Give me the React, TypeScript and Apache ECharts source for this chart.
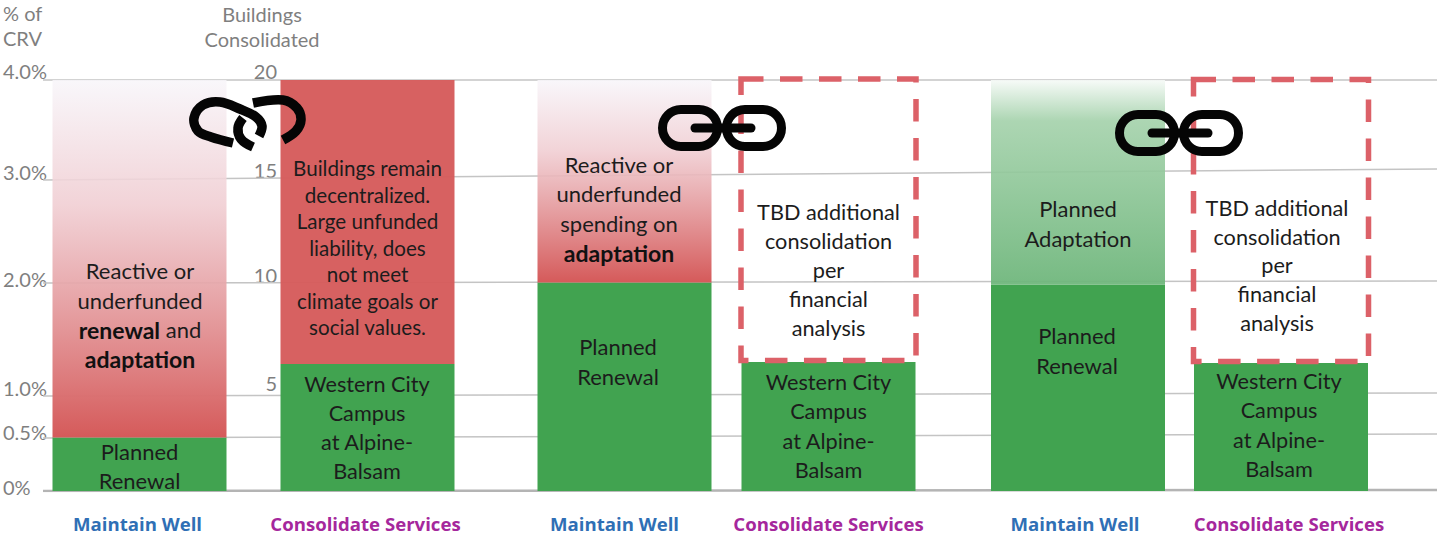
import React, { useEffect, useRef } from "react";
import * as echarts from "echarts";

// ---------- data ----------
const categories = ["Maintain Well", "Consolidate Services"];
// Maintain Well bars, % of CRV
const plannedRenewalPct = [0.52, 2.03, 2.01];
const upperSpendPct = [3.48, 1.97, 1.99];
// Consolidate Services bars, buildings consolidated
const westernCityBuildings = [6.18, 6.28, 6.23];
const remainingBuildings = [13.82, 13.77, 13.8];
const BUILDINGS_PER_PCT = 5;

// Axis labels (the source axis is drawn with irregular spacing)
const pctLabels = ["0%", "0.5%", "1.0%", "2.0%", "3.0%", "4.0%"];
const pctLabelAt = [0.04, 0.572, 1.0, 2.062, 3.108, 4.088];
const buildingLabels = ["5", "10", "15", "20"];
const buildingLabelAt = [1.05, 2.1, 3.123, 4.088];
// Gridlines, value at the left and right ends (they slope slightly in the source)
const gridLeft = [0, 0.516, 0.925, 2.024, 3.027, 4];
const gridRight = [0.01, 0.555, 0.954, 2.044, 3.134, 4];

const maintainText = [
  "Reactive or\nunderfunded\n{b|renewal} and\n{b|adaptation}",
  "Reactive or\nunderfunded\nspending on\n{b|adaptation}",
  "Planned\nAdaptation",
];
const plannedRenewalText = ["Planned\nRenewal", "Planned\nRenewal", "Planned\nRenewal"];
const westernCityText = "Western City\nCampus\nat Alpine-\nBalsam";
const consolidateText = [
  "Buildings remain\ndecentralized.\nLarge unfunded\nliability, does\nnot meet\nclimate goals or\nsocial values.",
  "TBD additional\nconsolidation\nper\nfinancial\nanalysis",
  "TBD additional\nconsolidation\nper\nfinancial\nanalysis",
];

// ---------- layout & style ----------
const W = 1437;
const H = 538;
const PLOT_BOTTOM = 491;
const BAR_W = 174;
const PX_PER_PCT = 102.75;
const FONT = "Lato, sans-serif";
const groupGrids = [
  { left: 25.5, width: 456, shift: [-2, -2] },
  { left: 522.5, width: 408, shift: [-10, 0] },
  { left: 976.5, width: 406, shift: [-3, 8] },
];
const GREEN = "#41a350";
const DASH_RED = "#dc6168";

const grad = (stops: [number, string][]) => ({
  type: "linear",
  x: 0,
  y: 0,
  x2: 0,
  y2: 1,
  colorStops: stops.map(([offset, color]) => ({ offset, color })),
});
const redFade = grad([
  [0, "rgba(248,246,250,0.88)"],
  [0.35, "rgba(240,205,210,0.88)"],
  [1, "rgba(213,90,90,1)"],
]);
const greenFade = grad([
  [0, "rgba(246,250,247,0.9)"],
  [0.2, "rgba(163,209,170,0.9)"],
  [1, "rgba(110,182,123,0.94)"],
]);

// label layout: [dx from bar centre, dy from bar top, lineHeight, fontSize]
const lowerMaintainLayout = [
  [0, -0.5, 29, 22],
  [-6.5, 49, 30, 22],
  [-1, 36, 30, 22],
];
const upperMaintainLayout = [
  [0.5, 176, 29.5, 22],
  [-5.5, 70, 29.3, 22],
  [0, 113, 30, 22],
];
const lowerConsolidateLayout = [
  [-0.5, 5.5, 29, 21.7],
  [0, 5.5, 29.3, 21.7],
  [-2, 3.5, 29.3, 21.7],
];
const upperConsolidateLayout = [
  [0, 74.75, 26.5, 20.6],
  [0, 118, 29.2, 21.7],
  [-4, 114, 28.8, 21.7],
];

const labelOf = (text: string, l: number[]) => ({
  show: true,
  formatter: text,
  position: [BAR_W / 2 + l[0], l[1]],
  align: "center",
  verticalAlign: "top",
  lineHeight: l[2],
  fontSize: l[3],
  fontFamily: FONT,
  color: "#1c1c1c",
  rich: {
    b: { fontWeight: "bold", fontSize: l[3] + 1, lineHeight: l[2], fontFamily: FONT, color: "#111" },
  },
});

const upperStyles = (i: number) => ({
  maintain: i === 2 ? { color: greenFade } : { color: redFade },
  consolidate: i === 0 ? { color: "rgba(214,92,92,0.97)" } : { color: "rgba(255,255,255,0)" },
});

function buildOption() {
  const grid: any[] = [];
  const xAxis: any[] = [];
  const yAxis: any[] = [];
  const series: any[] = [];

  const xLabelStyle = (color: string, shift: number) => ({
    color,
    fontWeight: "bold",
    fontSize: 18.6,
    fontFamily: "'Open Sans', sans-serif",
    padding: [0, shift < 0 ? -2 * shift : 0, 0, shift > 0 ? 2 * shift : 0],
  });

  groupGrids.forEach((g, i) => {
    grid.push({ left: g.left, width: g.width, top: 80, bottom: H - PLOT_BOTTOM });
    xAxis.push({
      type: "category",
      gridIndex: i,
      data: categories,
      axisLine: { show: false },
      axisTick: { show: false },
      axisLabel: {
        interval: 0,
        margin: 23,
        formatter: (v: string) => (v === categories[0] ? `{m|${v}}` : `{c|${v}}`),
        rich: { m: xLabelStyle("#2f6fb5", g.shift[0]), c: xLabelStyle("#a5279c", g.shift[1]) },
      },
    });
    yAxis.push({ type: "value", gridIndex: i, min: 0, max: 4, show: false });
    const common = {
      type: "bar",
      xAxisIndex: i,
      yAxisIndex: i,
      stack: "g" + i,
      barWidth: BAR_W,
      clip: false,
      z: 3,
      silent: true,
    };
    const st = upperStyles(i);
    const western = westernCityBuildings[i] / BUILDINGS_PER_PCT;
    const remaining = remainingBuildings[i] / BUILDINGS_PER_PCT;
    series.push({
      ...common,
      name: "Planned / Western City " + (i + 1),
      itemStyle: { color: GREEN },
      data: [
        { value: plannedRenewalPct[i], label: labelOf(plannedRenewalText[i], lowerMaintainLayout[i]) },
        { value: western, label: labelOf(westernCityText, lowerConsolidateLayout[i]) },
      ],
    });
    series.push({
      ...common,
      name: "Upper " + (i + 1),
      data: [
        { value: upperSpendPct[i], itemStyle: st.maintain, label: labelOf(maintainText[i], upperMaintainLayout[i]) },
        { value: remaining, itemStyle: st.consolidate, label: labelOf(consolidateText[i], upperConsolidateLayout[i]) },
      ],
    });
    if (i > 0) {
      // dashed outline of the still-undetermined consolidation
      series.push({
        type: "custom",
        name: "TBD outline " + (i + 1),
        xAxisIndex: i,
        yAxisIndex: i,
        silent: true,
        clip: false,
        z: 4,
        encode: { x: 0, y: [1, 2] },
        data: [[1, western, western + remaining]],
        renderItem: (_p: any, api: any) => {
          const lo = api.coord([api.value(0), api.value(1)]);
          const hi = api.coord([api.value(0), api.value(2)]);
          return {
            type: "rect",
            shape: { x: lo[0] - BAR_W / 2 - 0.5, y: hi[1], width: BAR_W + 1, height: lo[1] - hi[1] - 1.5 },
            style: { fill: "none", stroke: DASH_RED, lineWidth: 5.5, lineDash: [22.5, 16.5] },
          };
        },
      });
    }
  });

  // overlay grid: gridlines and both tick-label columns
  const ov = groupGrids.length;
  const ovMax = PLOT_BOTTOM / PX_PER_PCT;
  grid.push({ left: 43, right: 0, top: 0, bottom: H - PLOT_BOTTOM });
  xAxis.push({ type: "value", gridIndex: ov, min: 0, max: 1, show: false });
  const ticks = (at: number[], labels: string[], extra: any) => ({
    type: "value",
    gridIndex: ov,
    min: 0,
    max: ovMax,
    position: "left",
    axisLine: { show: false },
    axisTick: { show: false },
    splitLine: { show: false },
    axisLabel: {
      customValues: at,
      formatter: (v: number) => labels[at.indexOf(v)] ?? "",
      color: "#7f7f7f",
      fontSize: 20,
      fontFamily: FONT,
      ...extra.label,
    },
    ...extra.axis,
  });
  yAxis.push(ticks(pctLabelAt, pctLabels, { label: { align: "left", margin: 40 }, axis: {} }));
  yAxis.push(ticks(buildingLabelAt, buildingLabels, { label: { align: "right", margin: 0 }, axis: { offset: -234 } }));

  gridLeft.forEach((v, i) => {
    series.push({
      type: "line",
      name: "grid " + pctLabels[i],
      xAxisIndex: ov,
      yAxisIndex: ov,
      data: [
        [0, v],
        [1, gridRight[i]],
      ],
      showSymbol: false,
      silent: true,
      z: 1,
      lineStyle: { color: i === 0 ? "#b4b4b4" : "#c4c4c4", width: i === 0 ? 2.5 : 1.5 },
    });
  });

  const black = { stroke: "#050505", fill: "none", lineWidth: 9 };
  const chainLink = (dx: number, dy: number) => ({
    type: "group",
    x: dx,
    y: dy,
    children: [
      { type: "rect", z: 100, shape: { x: 662.5, y: 109.5, width: 55, height: 37, r: 18.5 }, style: black },
      { type: "rect", z: 100, shape: { x: 726.5, y: 109.5, width: 55, height: 37, r: 18.5 }, style: black },
      { type: "line", z: 100, shape: { x1: 695, y1: 128, x2: 751, y2: 128 }, style: { ...black, lineCap: "round" } },
    ],
  });
  const brokenLine = { stroke: "#050505", fill: "none", lineWidth: 9.5 };
  const graphic = [
    chainLink(0, 0),
    chainLink(457, 5),
    {
      type: "group",
      children: [
        {
          type: "polyline",
          z: 100,
          shape: {
            points: [[233, 143], [211, 137], [198, 131], [194, 118], [203, 105], [220, 102], [240, 109], [256, 117], [262, 126], [259, 136]],
            smooth: 0.35,
          },
          style: brokenLine,
        },
        {
          type: "polyline",
          z: 100,
          shape: { points: [[243, 118], [238, 128], [241, 139], [253, 147]], smooth: 0.4 },
          style: brokenLine,
        },
        {
          type: "polyline",
          z: 100,
          shape: { points: [[253, 103], [283, 100], [297, 108], [301, 120], [296, 131], [283, 140]], smooth: 0.35 },
          style: brokenLine,
        },
      ],
    },
  ];

  const titleStyle = { color: "#7f7f7f", fontSize: 20, lineHeight: 25, fontFamily: FONT, fontWeight: "normal" };
  return {
    animation: false,
    backgroundColor: "#fff",
    title: [
      { text: "% of\nCRV", left: 3, top: 0, padding: 0, textStyle: titleStyle },
      { text: "Buildings\nConsolidated", left: 262, top: 1, padding: 0, textAlign: "center", textStyle: titleStyle },
    ],
    grid,
    xAxis,
    yAxis,
    series,
    graphic,
  };
}

export default function App() {
  const ref = useRef<HTMLDivElement>(null);
  useEffect(() => {
    document.body.style.margin = "0";
    const chart = echarts.init(ref.current!, undefined, { renderer: "svg", width: W, height: H });
    chart.setOption(buildOption() as any);
    return () => chart.dispose();
  }, []);
  return <div ref={ref} style={{ width: W, height: H, background: "#fff" }} />;
}
